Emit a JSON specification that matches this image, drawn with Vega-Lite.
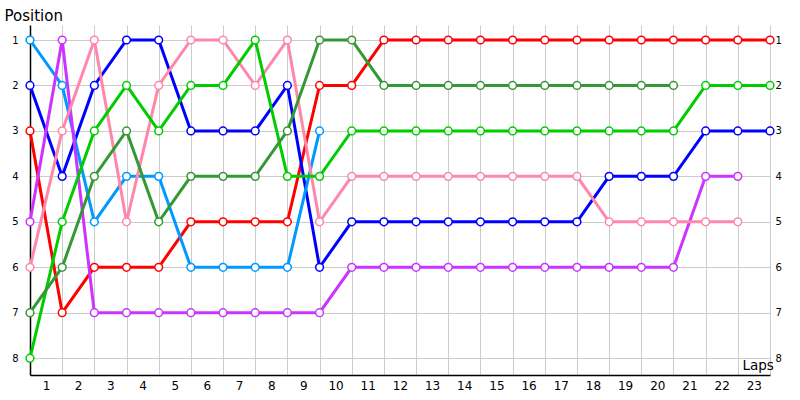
{
  "$schema": "https://vega.github.io/schema/vega-lite/v6.json",
  "autosize": "none",
  "width": 740,
  "height": 350,
  "padding": {"left": 30, "top": 25, "right": 30, "bottom": 25},
  "background": "white",
  "config": {"view": {"stroke": null}, "font": "DejaVu Sans"},
  "datasets": {
    "race": [
      {"car":"A","lap":0,"pos":3},{"car":"A","lap":1,"pos":7},{"car":"A","lap":2,"pos":6},{"car":"A","lap":3,"pos":6},{"car":"A","lap":4,"pos":6},{"car":"A","lap":5,"pos":5},{"car":"A","lap":6,"pos":5},{"car":"A","lap":7,"pos":5},{"car":"A","lap":8,"pos":5},{"car":"A","lap":9,"pos":2},{"car":"A","lap":10,"pos":2},{"car":"A","lap":11,"pos":1},{"car":"A","lap":12,"pos":1},{"car":"A","lap":13,"pos":1},{"car":"A","lap":14,"pos":1},{"car":"A","lap":15,"pos":1},{"car":"A","lap":16,"pos":1},{"car":"A","lap":17,"pos":1},{"car":"A","lap":18,"pos":1},{"car":"A","lap":19,"pos":1},{"car":"A","lap":20,"pos":1},{"car":"A","lap":21,"pos":1},{"car":"A","lap":22,"pos":1},{"car":"A","lap":23,"pos":1},
      {"car":"B","lap":0,"pos":2},{"car":"B","lap":1,"pos":4},{"car":"B","lap":2,"pos":2},{"car":"B","lap":3,"pos":1},{"car":"B","lap":4,"pos":1},{"car":"B","lap":5,"pos":3},{"car":"B","lap":6,"pos":3},{"car":"B","lap":7,"pos":3},{"car":"B","lap":8,"pos":2},{"car":"B","lap":9,"pos":6},{"car":"B","lap":10,"pos":5},{"car":"B","lap":11,"pos":5},{"car":"B","lap":12,"pos":5},{"car":"B","lap":13,"pos":5},{"car":"B","lap":14,"pos":5},{"car":"B","lap":15,"pos":5},{"car":"B","lap":16,"pos":5},{"car":"B","lap":17,"pos":5},{"car":"B","lap":18,"pos":4},{"car":"B","lap":19,"pos":4},{"car":"B","lap":20,"pos":4},{"car":"B","lap":21,"pos":3},{"car":"B","lap":22,"pos":3},{"car":"B","lap":23,"pos":3},
      {"car":"C","lap":0,"pos":1},{"car":"C","lap":1,"pos":2},{"car":"C","lap":2,"pos":5},{"car":"C","lap":3,"pos":4},{"car":"C","lap":4,"pos":4},{"car":"C","lap":5,"pos":6},{"car":"C","lap":6,"pos":6},{"car":"C","lap":7,"pos":6},{"car":"C","lap":8,"pos":6},{"car":"C","lap":9,"pos":3},
      {"car":"D","lap":0,"pos":5},{"car":"D","lap":1,"pos":1},{"car":"D","lap":2,"pos":7},{"car":"D","lap":3,"pos":7},{"car":"D","lap":4,"pos":7},{"car":"D","lap":5,"pos":7},{"car":"D","lap":6,"pos":7},{"car":"D","lap":7,"pos":7},{"car":"D","lap":8,"pos":7},{"car":"D","lap":9,"pos":7},{"car":"D","lap":10,"pos":6},{"car":"D","lap":11,"pos":6},{"car":"D","lap":12,"pos":6},{"car":"D","lap":13,"pos":6},{"car":"D","lap":14,"pos":6},{"car":"D","lap":15,"pos":6},{"car":"D","lap":16,"pos":6},{"car":"D","lap":17,"pos":6},{"car":"D","lap":18,"pos":6},{"car":"D","lap":19,"pos":6},{"car":"D","lap":20,"pos":6},{"car":"D","lap":21,"pos":4},{"car":"D","lap":22,"pos":4},
      {"car":"E","lap":0,"pos":6},{"car":"E","lap":1,"pos":3},{"car":"E","lap":2,"pos":1},{"car":"E","lap":3,"pos":5},{"car":"E","lap":4,"pos":2},{"car":"E","lap":5,"pos":1},{"car":"E","lap":6,"pos":1},{"car":"E","lap":7,"pos":2},{"car":"E","lap":8,"pos":1},{"car":"E","lap":9,"pos":5},{"car":"E","lap":10,"pos":4},{"car":"E","lap":11,"pos":4},{"car":"E","lap":12,"pos":4},{"car":"E","lap":13,"pos":4},{"car":"E","lap":14,"pos":4},{"car":"E","lap":15,"pos":4},{"car":"E","lap":16,"pos":4},{"car":"E","lap":17,"pos":4},{"car":"E","lap":18,"pos":5},{"car":"E","lap":19,"pos":5},{"car":"E","lap":20,"pos":5},{"car":"E","lap":21,"pos":5},{"car":"E","lap":22,"pos":5},
      {"car":"F","lap":0,"pos":8},{"car":"F","lap":1,"pos":5},{"car":"F","lap":2,"pos":3},{"car":"F","lap":3,"pos":2},{"car":"F","lap":4,"pos":3},{"car":"F","lap":5,"pos":2},{"car":"F","lap":6,"pos":2},{"car":"F","lap":7,"pos":1},{"car":"F","lap":8,"pos":4},{"car":"F","lap":9,"pos":4},{"car":"F","lap":10,"pos":3},{"car":"F","lap":11,"pos":3},{"car":"F","lap":12,"pos":3},{"car":"F","lap":13,"pos":3},{"car":"F","lap":14,"pos":3},{"car":"F","lap":15,"pos":3},{"car":"F","lap":16,"pos":3},{"car":"F","lap":17,"pos":3},{"car":"F","lap":18,"pos":3},{"car":"F","lap":19,"pos":3},{"car":"F","lap":20,"pos":3},{"car":"F","lap":21,"pos":2},{"car":"F","lap":22,"pos":2},{"car":"F","lap":23,"pos":2},
      {"car":"G","lap":0,"pos":7},{"car":"G","lap":1,"pos":6},{"car":"G","lap":2,"pos":4},{"car":"G","lap":3,"pos":3},{"car":"G","lap":4,"pos":5},{"car":"G","lap":5,"pos":4},{"car":"G","lap":6,"pos":4},{"car":"G","lap":7,"pos":4},{"car":"G","lap":8,"pos":3},{"car":"G","lap":9,"pos":1},{"car":"G","lap":10,"pos":1},{"car":"G","lap":11,"pos":2},{"car":"G","lap":12,"pos":2},{"car":"G","lap":13,"pos":2},{"car":"G","lap":14,"pos":2},{"car":"G","lap":15,"pos":2},{"car":"G","lap":16,"pos":2},{"car":"G","lap":17,"pos":2},{"car":"G","lap":18,"pos":2},{"car":"G","lap":19,"pos":2},{"car":"G","lap":20,"pos":2}
    ]
  },
  "data": {"name": "race"},
  "encoding": {
    "x": {
      "field": "lap", "type": "quantitative",
      "scale": {"domain": [0, 23], "nice": false, "zero": false},
      "axis": {
        "values": [0,1,2,3,4,5,6,7,8,9,10,11,12,13,14,15,16,17,18,19,20,21,22,23],
        "labelExpr": "datum.value < 23 ? datum.value + 1 : ''",
        "labelOffset": 16,
        "labelFontSize": 12,
        "labelColor": "black",
        "labelPadding": 5,
        "labelFlush": false,
        "labelOverlap": false,
        "ticks": false,
        "grid": true,
        "gridColor": "#cccccc",
        "gridWidth": 1,
        "domainColor": "black",
        "domainWidth": 1.5,
        "title": "Laps",
        "titleFontSize": 13.5,
        "titleFontWeight": "normal",
        "titleColor": "black",
        "titleAlign": "left",
        "titleBaseline": "alphabetic",
        "titleX": 712,
        "titleY": -6
      }
    },
    "y": {
      "field": "pos", "type": "quantitative",
      "scale": {"domain": [0.67, 8.37], "reverse": true, "nice": false, "zero": false}
    },
    "color": {
      "field": "car", "type": "nominal", "legend": null,
      "scale": {"domain": ["A","B","C","D","E","F","G"], "range": ["#ff0000","#0000ff","#0099ff","#cc33ff","#ff88aa","#00cc00","#339933"]}
    },
    "detail": {"field": "car"}
  },
  "layer": [
    {
      "mark": {"type": "line", "strokeWidth": 3},
      "encoding": {
        "y": {
          "field": "pos", "type": "quantitative",
          "axis": {
            "orient": "left",
            "values": [1,2,3,4,5,6,7,8],
            "ticks": false,
            "grid": true,
            "gridColor": "#cccccc",
            "domainColor": "black",
            "domainWidth": 1.5,
            "labelFontSize": 10,
            "labelColor": "black",
            "labelPadding": 12,
            "title": "Position",
            "titleFontSize": 15,
            "titleFontWeight": "normal",
            "titleColor": "black",
            "titleAngle": 0,
            "titleAlign": "left",
            "titleBaseline": "alphabetic",
            "titleX": -26,
            "titleY": -5
          }
        }
      }
    },
    {
      "mark": {"type": "point", "filled": false, "fill": "white", "fillOpacity": 1, "opacity": 1, "size": 60, "strokeWidth": 1.5},
      "encoding": {
        "y": {
          "field": "pos", "type": "quantitative",
          "axis": {
            "orient": "right",
            "values": [1,2,3,4,5,6,7,8],
            "ticks": false,
            "grid": false,
            "domain": false,
            "labelFontSize": 10,
            "labelColor": "black",
            "labelPadding": 5,
            "title": null
          }
        }
      }
    }
  ],
  "resolve": {"axis": {"y": "independent"}}
}
